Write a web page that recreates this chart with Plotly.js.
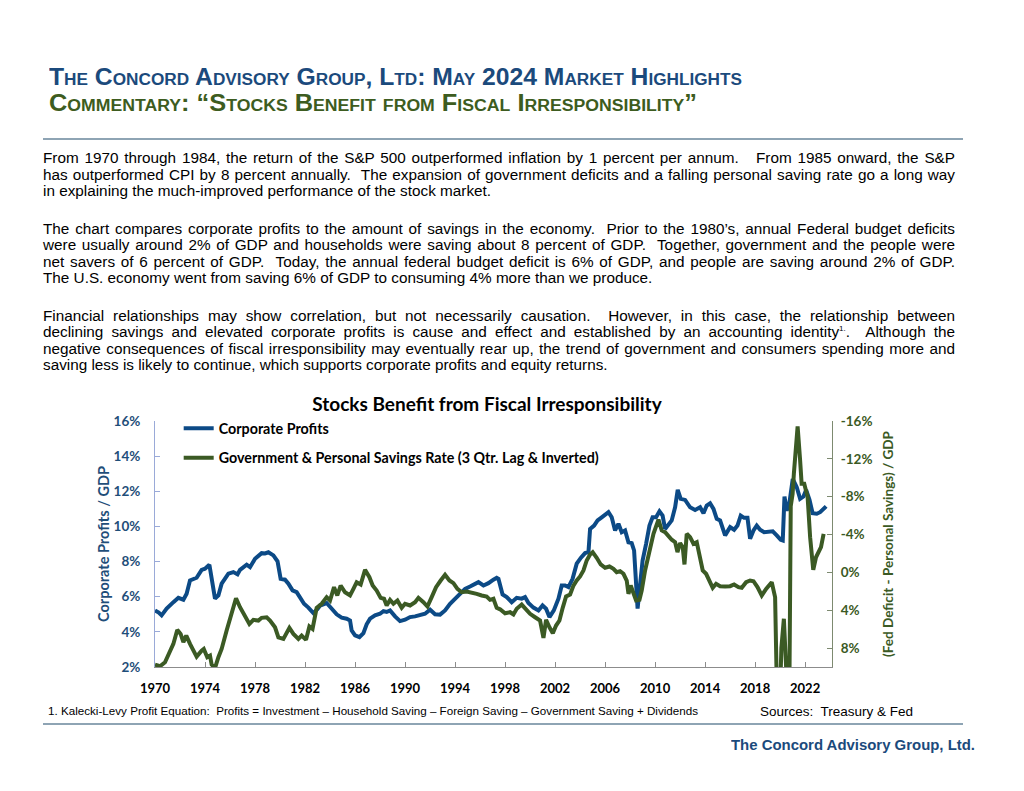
<!DOCTYPE html>
<html>
<head>
<meta charset="utf-8">
<script src="https://cdn.plot.ly/plotly-3.0.1.min.js"></script>
<style>
  html, body { margin:0; padding:0; background:#fff; }
  body { width:1024px; height:791px; position:relative; overflow:hidden; font-family:"Liberation Sans", Arial, sans-serif; }
  .abs { position:absolute; white-space:nowrap; }
  .hdr { font-family:"Liberation Sans Narrow","Liberation Sans",Arial,sans-serif; font-weight:bold; font-variant:small-caps; font-size:23px; line-height:23px; transform-origin:left top; }
  .rule { position:absolute; left:43px; width:920px; height:2px; background:#8ea4b4; }
  .para { position:absolute; left:43px; width:912px; font-size:15.3px; line-height:16.5px; color:#000; }
  .para div { text-align:justify; text-align-last:justify; white-space:nowrap; overflow:visible; transform-origin:left top; }
  .para div.last { text-align-last:left; }
  .fit { transform-origin:left top; }
  #chart { position:absolute; left:0; top:380px; width:1024px; height:330px; }
</style>
</head>
<body>
<div class="abs hdr fit" id="h1" data-w="693" style="left:49px; top:66px; color:#1b4a7c;">The Concord Advisory Group, Ltd: May 2024 Market Highlights</div>
<div class="abs hdr fit" id="h2" data-w="648" style="left:49px; top:92px; color:#3d5c20;">Commentary: “Stocks Benefit from Fiscal Irresponsibility”</div>
<div class="rule" style="top:138px;"></div>

<div class="para" style="top:150px;">
  <div>From 1970 through 1984, the return of the S&amp;P 500 outperformed inflation by 1 percent per annum.&nbsp;&nbsp; From 1985 onward, the S&amp;P</div>
  <div>has outperformed CPI by 8 percent annually.&nbsp; The expansion of government deficits and a falling personal saving rate go a long way</div>
  <div class="last">in explaining the much-improved performance of the stock market.</div>
</div>
<div class="para" style="top:220.5px;">
  <div>The chart compares corporate profits to the amount of savings in the economy.&nbsp; Prior to the 1980’s, annual Federal budget deficits</div>
  <div>were usually around 2% of GDP and households were saving about 8 percent of GDP.&nbsp; Together, government and the people were</div>
  <div>net savers of 6 percent of GDP.&nbsp; Today, the annual federal budget deficit is 6% of GDP, and people are saving around 2% of GDP.</div>
  <div class="last">The U.S. economy went from saving 6% of GDP to consuming 4% more than we produce.</div>
</div>
<div class="para" style="top:307.5px;">
  <div>Financial relationships may show correlation, but not necessarily causation.&nbsp; However, in this case, the relationship between</div>
  <div>declining savings and elevated corporate profits is cause and effect and established by an accounting identity<sup style="font-size:8px;line-height:0;">1.</sup>.&nbsp; Although the</div>
  <div>negative consequences of fiscal irresponsibility may eventually rear up, the trend of government and consumers spending more and</div>
  <div class="last">saving less is likely to continue, which supports corporate profits and equity returns.</div>
</div>

<div id="chart"></div>

<div class="abs fit" data-w="650" style="left:48px; top:705px; font-family:'Liberation Sans Narrow','Liberation Sans',Arial,sans-serif; font-size:11px; line-height:13px;">1. Kalecki-Levy Profit Equation:&nbsp; Profits = Investment – Household Saving – Foreign Saving – Government Saving + Dividends</div>
<div class="abs fit" data-w="153" style="left:760px; top:704px; font-family:'Liberation Sans Narrow','Liberation Sans',Arial,sans-serif; font-size:13px; line-height:15px;">Sources:&nbsp; Treasury &amp; Fed</div>
<div class="rule" style="top:723px;"></div>
<div class="abs fit" data-w="244" style="left:731px; top:736px; font-family:'Liberation Sans Narrow','Liberation Sans',Arial,sans-serif; font-size:15px; line-height:17px; font-weight:bold; color:#1b4a7c;">The Concord Advisory Group, Ltd.</div>

<script>
// fit narrow-font texts to their measured widths
document.querySelectorAll('.fit').forEach(function(el){
  var target = parseFloat(el.getAttribute('data-w'));
  var w = el.getBoundingClientRect().width;
  if (w > 0) el.style.transform = 'scaleX(' + (target / w) + ')';
});
// keep justified lines inside the text column
document.querySelectorAll('.para div').forEach(function(el){
  var r = document.createRange(); r.selectNodeContents(el);
  var w = r.getBoundingClientRect().width;
  if (w > 912) el.style.transform = 'scaleX(' + (912 / w) + ')';
});

// ---------------- DATA ----------------
var chartTitle = "Stocks Benefit from Fiscal Irresponsibility";
var profitName = "Corporate Profits";
var savingsName = "Government & Personal Savings Rate (3 Qtr. Lag & Inverted)";

var profitYears = [1970.0,1970.3,1970.53,1970.93,1971.47,1971.87,1972.27,1972.53,1972.8,1973.33,1973.73,1974.0,1974.35,1974.53,1974.8,1975.07,1975.33,1975.87,1976.27,1976.6,1976.8,1977.33,1977.6,1978.0,1978.53,1978.8,1979.07,1979.47,1979.8,1980.05,1980.4,1980.67,1981.0,1981.33,1981.65,1981.92,1982.27,1982.67,1983.0,1983.2,1983.73,1984.13,1984.53,1984.93,1985.33,1985.6,1985.73,1986.0,1986.35,1986.67,1986.93,1987.2,1987.6,1988.0,1988.27,1988.53,1988.8,1989.2,1989.6,1990.0,1990.4,1990.8,1991.2,1991.6,1992.0,1992.4,1992.8,1993.2,1993.6,1994.0,1994.4,1994.8,1995.2,1995.6,1995.87,1996.27,1996.67,1997.07,1997.33,1997.47,1997.8,1998.13,1998.53,1998.93,1999.33,1999.6,1999.87,2000.27,2000.67,2001.0,2001.28,2001.55,2001.9,2002.27,2002.53,2002.8,2003.07,2003.4,2003.73,2004.07,2004.4,2004.67,2004.8,2005.12,2005.4,2005.73,2006.0,2006.27,2006.53,2006.8,2007.07,2007.33,2007.6,2007.87,2008.13,2008.32,2008.6,2008.8,2009.0,2009.28,2009.55,2009.8,2010.08,2010.35,2010.6,2010.8,2011.07,2011.33,2011.6,2011.81,2012.05,2012.4,2012.8,2013.2,2013.6,2013.87,2014.13,2014.4,2014.67,2014.93,2015.2,2015.6,2016.0,2016.32,2016.59,2016.85,2017.12,2017.39,2017.6,2017.87,2018.13,2018.4,2018.72,2019.07,2019.41,2019.73,2020.05,2020.21,2020.35,2020.53,2020.75,2021.01,2021.33,2021.6,2021.87,2022.08,2022.35,2022.6,2022.93,2023.2,2023.47,2023.68];
var profitValues = [5.22,5.1,4.94,5.32,5.69,5.94,5.83,6.17,6.93,7.08,7.53,7.59,7.82,6.93,5.89,6.07,6.74,7.31,7.40,7.27,7.53,7.82,7.68,8.16,8.48,8.46,8.53,8.35,8.02,7.02,6.97,6.74,6.36,6.26,5.89,5.60,5.38,5.07,5.3,5.5,5.64,5.32,5.0,4.81,4.75,4.65,4.08,3.8,3.7,3.93,4.43,4.75,4.94,5.03,5.18,5.13,5.22,4.88,4.61,4.69,4.84,4.88,4.98,5.03,5.26,5.0,4.98,5.22,5.6,5.89,6.17,6.45,6.58,6.7,6.83,6.64,6.77,6.97,7.08,7.02,6.13,5.98,5.69,5.94,5.89,5.98,5.64,5.38,5.22,5.5,5.32,4.84,5.22,5.89,6.64,6.64,6.55,7.02,7.88,8.22,8.48,8.53,9.86,10.05,10.34,10.52,10.68,10.81,10.52,9.77,10.15,9.67,9.77,9.1,9.05,8.63,5.32,6.93,8.06,9.01,10.05,10.52,10.52,10.86,10.62,9.86,10.15,10.34,11.09,12.08,11.57,11.51,11.09,10.94,11.09,10.75,11.19,11.32,11.0,10.43,10.34,9.49,9.96,9.81,10.05,10.62,10.49,10.49,9.3,9.77,10.05,9.81,9.67,9.67,9.72,9.49,9.24,9.2,11.7,10.9,11.38,12.7,12.23,11.57,11.7,12.08,11.51,10.75,10.72,10.81,11.03,11.14];

var savingsYears = [1970.0,1970.4,1970.8,1971.2,1971.47,1971.78,1972.05,1972.27,1972.5,1972.8,1973.33,1973.73,1973.9,1974.18,1974.4,1974.53,1974.8,1975.07,1975.33,1975.73,1976.13,1976.48,1976.8,1977.2,1977.55,1977.87,1978.27,1978.53,1978.93,1979.2,1979.6,1979.87,1980.27,1980.75,1981.07,1981.47,1981.73,1982.08,1982.35,1982.6,1982.93,1983.33,1983.73,1984.0,1984.32,1984.58,1984.85,1985.2,1985.6,1985.87,1986.13,1986.45,1986.8,1987.15,1987.41,1987.73,1988.05,1988.32,1988.53,1988.8,1989.07,1989.39,1989.73,1990.0,1990.4,1990.8,1991.07,1991.47,1991.79,1992.13,1992.48,1992.85,1993.2,1993.55,1993.87,1994.19,1994.53,1994.93,1995.33,1995.73,1996.13,1996.53,1996.8,1997.07,1997.33,1997.6,1998.0,1998.4,1998.67,1998.93,1999.33,1999.6,2000.0,2000.4,2000.8,2001.07,2001.28,2001.55,2001.82,2002.08,2002.35,2002.61,2002.88,2003.2,2003.47,2003.73,2004.0,2004.27,2004.53,2004.8,2005.01,2005.33,2005.65,2006.0,2006.35,2006.67,2006.93,2007.2,2007.47,2007.73,2007.87,2008.05,2008.27,2008.48,2008.75,2008.93,2009.2,2009.55,2009.87,2010.27,2010.53,2010.8,2010.99,2011.33,2011.6,2011.79,2012.0,2012.21,2012.35,2012.53,2012.8,2013.07,2013.33,2013.55,2013.81,2014.08,2014.35,2014.61,2014.88,2015.2,2015.6,2016.0,2016.32,2016.67,2016.93,2017.28,2017.6,2017.87,2018.19,2018.53,2018.88,2019.15,2019.33,2019.6,2019.85,2020.1,2020.3,2020.55,2020.7,2020.85,2021.0,2021.1,2021.4,2021.6,2021.72,2021.93,2022.2,2022.4,2022.65,2022.87,2023.13,2023.27,2023.48];
var savingsValues = [9.75,9.92,9.5,8.44,7.56,6.08,6.5,7.38,6.68,7.56,8.9,8.27,8.09,8.97,8.8,9.75,10.1,8.97,8.09,6.15,4.21,2.73,3.68,4.74,5.44,5.02,5.09,4.8,4.74,5.09,5.8,6.86,7.03,5.86,6.5,7.03,6.68,7.13,5.72,5.97,3.75,3.32,2.62,2.97,1.56,2.44,1.39,2.1,2.44,1.74,1.04,1.28,-0.27,0.51,1.39,1.92,2.69,2.79,3.5,2.9,3.32,2.97,3.75,3.32,3.5,3.15,2.69,3.15,3.61,2.62,1.56,0.86,0.26,0.86,1.14,1.74,2.1,2.02,2.1,2.27,2.44,2.55,2.9,2.79,3.75,3.9,4.32,4.21,4.45,3.85,3.4,3.75,4.38,4.74,5.09,6.93,5.02,5.8,6.43,5.62,5.09,3.75,2.55,2.34,1.39,0.86,0.43,-0.2,-1.26,-1.89,-2.14,-1.54,-0.84,-0.49,-0.62,-0.38,-0.02,-0.13,0.15,0.86,2.27,1.39,2.2,2.97,2.9,1.92,-0.2,-2.14,-4.08,-5.57,-4.43,-4.25,-3.9,-3.45,-3.2,-2.14,-3.09,-2.67,-0.84,-4.08,-3.72,-3.03,-3.2,-1.97,-0.2,0.15,1.04,1.63,1.21,1.46,1.49,1.46,1.28,1.56,1.63,1.04,0.86,0.93,1.56,2.44,1.74,1.21,1.04,2.62,20,8,4.9,12,20,-7.0,-8.3,-10.43,-15.44,-11.84,-9.37,-9.37,-7.96,-3.72,-0.27,-1.6,-2.32,-2.67,-4.08];

var xTickVals = [1970,1974,1978,1982,1986,1990,1994,1998,2002,2006,2010,2014,2018,2022];
var xTickText = ["1970","1974","1978","1982","1986","1990","1994","1998","2002","2006","2010","2014","2018","2022"];
var leftTickVals = [2,4,6,8,10,12,14,16];
var leftTickText = ["2%","4%","6%","8%","10%","12%","14%","16%"];
var rightTickVals = [-16,-12,-8,-4,0,4,8];
var rightTickText = ["-16%","-12%","-8%","-4%","0%","4%","8%"];
var leftTitle = "Corporate Profits / GDP";
var rightTitle = "(Fed Deficit - Personal Savings) / GDP";

// ---------------- CHART ----------------
var BLUE = "#0c4a86", GREEN = "#3b5a24", LBLUE = "#1f4e79";
var FONT = "Lato, 'Open Sans', sans-serif";

var traces = [
  { x: profitYears, y: profitValues, name: profitName, type: "scatter", mode: "lines",
    line: { color: BLUE, width: 4 }, yaxis: "y", legendgroup: "a" },
  { x: savingsYears, y: savingsValues, name: savingsName, type: "scatter", mode: "lines",
    line: { color: GREEN, width: 4 }, yaxis: "y2", legendgroup: "b" }
];

var layout = {
  width: 1024, height: 330,
  margin: { l: 155, r: 192, t: 41, b: 43, pad: 0 },
  paper_bgcolor: "rgba(0,0,0,0)", plot_bgcolor: "rgba(0,0,0,0)",
  font: { family: FONT, size: 12, color: "#000" },
  title: { text: "<b>" + chartTitle + "</b>", x: 487/1024, xref: "container", xanchor: "center",
           y: 1 - 24/330, yref: "container", yanchor: "middle", font: { family: FONT, size: 19, color: "#000" } },
  showlegend: true,
  legend: { x: 0.035, y: 1.035, xanchor: "left", yanchor: "top", traceorder: "grouped", tracegroupgap: 8,
            bgcolor: "rgba(0,0,0,0)", font: { family: FONT, size: 14.3, color: "#000", weight: "bold" } },
  xaxis: { range: [1970, 2024.15], tickvals: xTickVals, ticktext: xTickText, showgrid: false, zeroline: false,
           showline: true, linecolor: "#8c8c8c", linewidth: 1, ticks: "inside", ticklen: 5, tickcolor: "#8c8c8c",
           ticklabelstandoff: 9,
           tickfont: { family: FONT, size: 13, color: "#000", weight: "bold" }, fixedrange: true },
  yaxis: { range: [2, 16], tickvals: leftTickVals, ticktext: leftTickText, showgrid: false, zeroline: false,
           showline: true, linecolor: "#9aaad8", linewidth: 1, ticks: "inside", ticklen: 5, tickcolor: "#9aaad8",
           ticklabelstandoff: 11,
           tickfont: { family: FONT, size: 13.5, color: LBLUE, weight: "bold" },
           title: { text: leftTitle, font: { family: FONT, size: 14.5, color: LBLUE, weight: "bold" }, standoff: 0 } },
  yaxis2: { range: [10, -16], overlaying: "y", side: "right", tickvals: rightTickVals, ticktext: rightTickText,
            showgrid: false, zeroline: false, showline: true, linecolor: "#7d8a70", linewidth: 1,
            ticks: "inside", ticklen: 5, tickcolor: "#7d8a70", ticklabelstandoff: 5,
            tickfont: { family: FONT, size: 13.5, color: GREEN, weight: "bold" },
            title: { text: rightTitle, font: { family: FONT, size: 13.5, color: GREEN, weight: "bold" }, standoff: 12 } }
};

Plotly.newPlot("chart", traces, layout, { displayModeBar: false, staticPlot: true });
</script>
</body>
</html>
